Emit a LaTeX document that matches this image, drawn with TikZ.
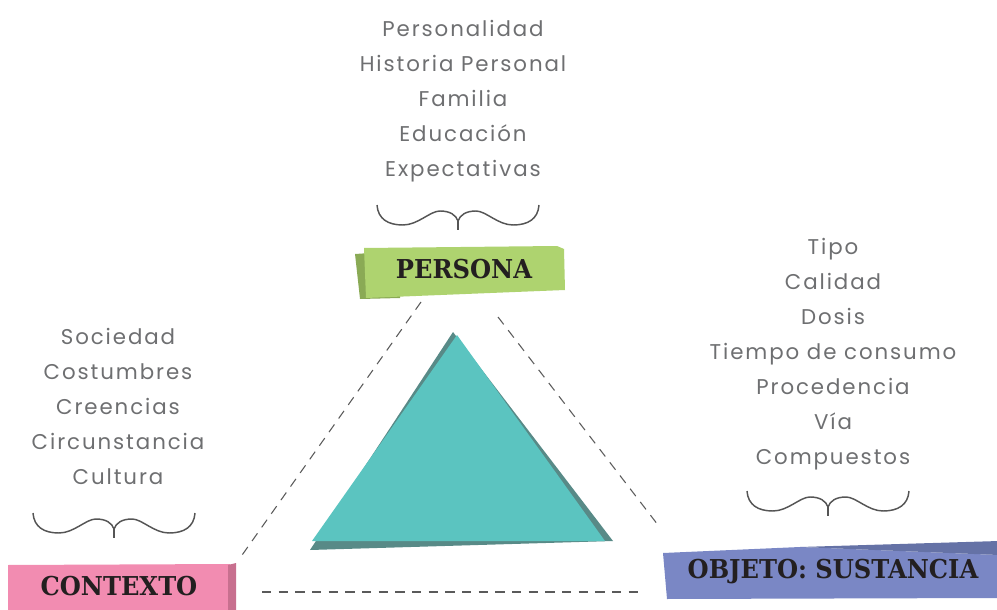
\documentclass[tikz,border=0pt]{standalone}
\usepackage{fontspec}
\setmainfont{Poppins}[LetterSpace=9]
\newfontfamily\slabfont{DejaVu Serif}[FakeStretch=0.93]
\definecolor{txtgray}{HTML}{6E6F71}
\definecolor{bracegray}{HTML}{555555}
\definecolor{dashgray}{HTML}{5A5A5A}
\definecolor{tagtext}{HTML}{231F20}
\definecolor{greenlight}{HTML}{AED36F}
\definecolor{greendark}{HTML}{8AAA55}
\definecolor{pinklight}{HTML}{F28CB1}
\definecolor{pinkdark}{HTML}{C8708F}
\definecolor{bluelight}{HTML}{7A87C5}
\definecolor{bluedark}{HTML}{6572A6}
\definecolor{teallight}{HTML}{5BC4C0}
\definecolor{tealdark}{HTML}{588A87}
\tikzset{
  curly/.pic={
    \draw[wave] (-81,0) .. controls (-80,14) and (-70,20) .. (-55,20)
      .. controls (-40,20) and (-28,6) .. (-18,6)
      .. controls (-8,6) and (-2,10) .. (0,16)
      .. controls (2,10) and (8,6) .. (18,6)
      .. controls (28,6) and (40,20) .. (55,20)
      .. controls (70,20) and (80,14) .. (81,0);
    \draw[wave] (0,16) -- (0,25);
  }
}
\begin{document}
\begin{tikzpicture}[x=0.75pt,y=-0.75pt,
  itemlist/.style={text=txtgray, font=\fontsize{16}{26.25}\selectfont, align=center, inner sep=0pt},
  tag/.style={text=tagtext, font=\slabfont\bfseries\fontsize{19.5}{22}\selectfont, inner sep=0pt},
  wave/.style={draw=bracegray, line width=1.1pt},
  dashline/.style={draw=dashgray, line width=0.8pt, dash pattern=on 7pt off 5.5pt}]
\useasboundingbox (0,0) rectangle (997,610);

% lists
\node[itemlist] (persList) at (463,101) {Personalidad\\Historia Personal\\Familia\\Educación\\Expectativas};
\node[itemlist] (contList) at (118,406) {Sociedad\\Costumbres\\Creencias\\Circunstancia\\Cultura};
\node[itemlist] (objList) at (833,354) {Tipo\\Calidad\\Dosis\\Tiempo de consumo\\Procedencia\\Vía\\Compuestos};

% braces
\pic at (458,205) {curly};
\pic at (114,513) {curly};
\pic at (828,491) {curly};

% banners
\fill[greendark] (355,254) -- (400,251) -- (400,298) -- (360,299) -- cycle;
\fill[greenlight] (364,248) -- (557,246) -- (564,249) -- (565,290) -- (366,298) -- cycle;
\fill[pinklight] (8,565) -- (230,564) -- (230,612) -- (8,612) -- cycle;
\fill[pinkdark] (228,565) -- (236,563) -- (236,612) -- (228,612) -- cycle;
\fill[bluelight] (663,553) -- (800,547) -- (999,555) -- (999,598) -- (667,599) -- cycle;
\fill[bluedark] (800,547) -- (999,541) -- (999,555) -- cycle;

\node[tag] (persona) at (464,269) {PERSONA};
\node[tag] (contexto) at (119,586) {CONTEXTO};
\node[tag] (objeto) at (833,572) {OBJETO: SUSTANCIA};

% triangle
\fill[tealdark] (453,332) -- (613,541) -- (310,550) -- cycle;
\fill[teallight] (457,335) -- (605,541) -- (312,541) -- cycle;

% dashed sides
\coordinate (lTop) at (421,302);
\coordinate (lBot) at (240,558);
\coordinate (rTop) at (498,317);
\coordinate (rBot) at (658,525);
\coordinate (bLeft) at (262,592);
\coordinate (bRight) at (640,592);
\draw[dashline] (lTop) -- (lBot);
\draw[dashline] (rTop) -- (rBot);
\draw[dashline] (bLeft) -- (bRight);
\end{tikzpicture}
\end{document}
